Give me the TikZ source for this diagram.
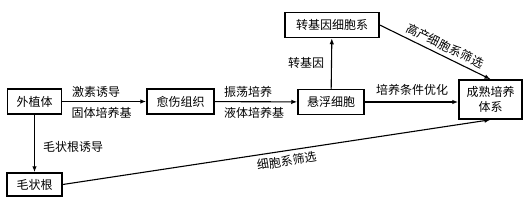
\documentclass[tikz,border=0pt]{standalone}
\usepackage{fontspec}
\setmainfont{Noto Sans CJK SC}
\usetikzlibrary{arrows.meta,positioning}

\begin{document}
\begin{tikzpicture}[x=1pt, y=1pt,
    stage/.style={rectangle, draw=black, line width=1.5pt, font=\fontsize{12}{15}\selectfont, inner sep=2pt, minimum height=25pt},
    flow/.style={-{Latex[length=6pt,width=4.5pt]}, line width=1.1pt},
    lbl/.style={font=\fontsize{12}{14}\selectfont, inner sep=1pt}
]

\useasboundingbox (0,0) rectangle (532,-203);

% Stages
\node[stage, minimum width=54pt] (explant) at (34.5,-101.5) {外植体};
\node[stage, minimum width=67pt] (callus) at (180.5,-101.5) {愈伤组织};
\node[stage, minimum width=66pt] (susp) at (331,-102) {悬浮细胞};
\node[stage, minimum width=94pt] (transg) at (332,-25) {转基因细胞系};
\node[stage, minimum width=63pt, minimum height=39pt, align=center] (mature) at (490.5,-99.5) {成熟培养\\体系};
\node[stage, minimum width=55pt, minimum height=23pt] (hairy) at (34.5,-184.5) {毛状根};

% Arrows
\draw[flow] (explant) -- (callus);
\draw[flow] (callus) -- (susp);
\draw[flow] (susp) -- (transg);
\draw[flow] (susp.east) -- (susp.east -| mature.west);
\draw[flow] (transg.east) -- (mature.north)
    node[lbl, pos=0.55, above=3pt, sloped] {高产细胞系筛选};
\draw[flow] (explant) -- (hairy);
\draw[flow] (hairy.east) -- (mature.south)
    node[lbl, pos=0.52, below=3pt, sloped] {细胞系筛选};

% Labels
\node[lbl] (l1) at (96,-92) {激素诱导};
\node[lbl] (l2) at (101.5,-113) {固体培养基};
\node[lbl] (l3) at (248,-92) {振荡培养};
\node[lbl] (l4) at (254,-113) {液体培养基};
\node[lbl] (l5) at (306,-63) {转基因};
\node[lbl] (l6) at (412,-90) {培养条件优化};
\node[lbl] (l7) at (73,-147) {毛状根诱导};

\end{tikzpicture}
\end{document}
